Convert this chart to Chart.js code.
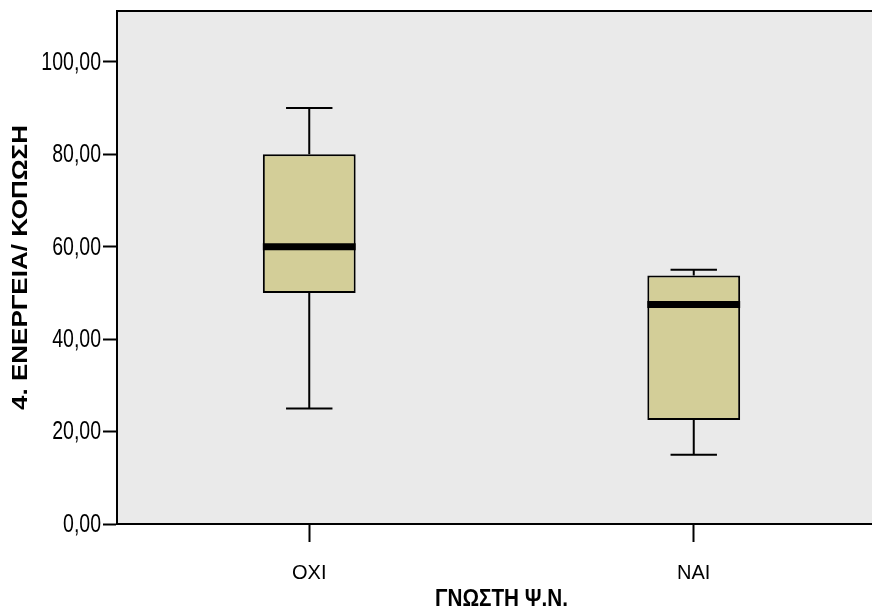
<!DOCTYPE html>
<html>
<head>
<meta charset="utf-8">
<script src="https://cdn.jsdelivr.net/npm/chart.js@4/dist/chart.umd.min.js"></script>
<style>
  html, body { margin: 0; padding: 0; overflow: hidden; background: #ffffff; }
  #wrap { width: 886px; height: 613px; }
</style>
</head>
<body>
<div id="wrap"><canvas id="c" width="886" height="613"></canvas></div>
<script>
// Box plot summary per group
const categories   = ['OXI', 'NAI'];
const whiskerLow   = [25, 15];
const quartile1    = [50, 22.5];
const medians      = [60, 47.5];
const quartile3    = [80, 53.75];
const whiskerHigh  = [90, 55];

const yMin = 0, yMax = 111, yStep = 20;
const formatTick = v => v.toFixed(2).replace('.', ',');

const xTitle = 'ΓΝΩΣΤΗ Ψ.Ν.';
const yTitle = '4. ΕΝΕΡΓΕΙΑ/ ΚΟΠΩΣΗ';

const boxFill = '#D3CE98';
const plotBg = '#EAEAEA';
const baseFont = "'Liberation Sans', Arial, sans-serif";

// Background of the plot area and the frame line along its top
const plotFrame = {
  id: 'plotFrame',
  beforeDraw(chart) {
    const { ctx, chartArea: a } = chart;
    ctx.save();
    ctx.fillStyle = plotBg;
    ctx.fillRect(a.left, a.top, a.right - a.left, a.bottom - a.top);
    ctx.restore();
  },
  afterDraw(chart) {
    const { ctx, chartArea: a } = chart;
    ctx.save();
    ctx.strokeStyle = '#000';
    ctx.lineWidth = 2;
    ctx.beginPath();
    ctx.moveTo(a.left - 1, a.top);
    ctx.lineTo(a.right, a.top);
    ctx.stroke();
    ctx.restore();
  }
};

// Whiskers, caps and median bars, placed with the chart's own scales
const boxExtras = {
  id: 'boxExtras',
  afterDatasetsDraw(chart) {
    const { ctx, scales: { x, y } } = chart;
    const meta = chart.getDatasetMeta(0);
    ctx.save();
    ctx.strokeStyle = '#000';
    categories.forEach((cat, i) => {
      const bar = meta.data[i];
      const cx = x.getPixelForValue(i);
      const half = bar.width / 2;
      const capHalf = half / 2;
      const yLo = y.getPixelForValue(whiskerLow[i]);
      const yQ1 = y.getPixelForValue(quartile1[i]);
      const yMed = y.getPixelForValue(medians[i]);
      const yQ3 = y.getPixelForValue(quartile3[i]);
      const yHi = y.getPixelForValue(whiskerHigh[i]);

      ctx.lineWidth = 2;
      ctx.beginPath();
      ctx.moveTo(cx, yQ3); ctx.lineTo(cx, yHi);
      ctx.moveTo(cx, yQ1); ctx.lineTo(cx, yLo);
      ctx.moveTo(cx - capHalf, yHi); ctx.lineTo(cx + capHalf, yHi);
      ctx.moveTo(cx - capHalf, yLo); ctx.lineTo(cx + capHalf, yLo);
      ctx.stroke();

      ctx.lineWidth = 7;
      ctx.beginPath();
      ctx.moveTo(cx - half, yMed); ctx.lineTo(cx + half, yMed);
      ctx.stroke();
    });
    ctx.restore();
  }
};

// Narrow y tick labels and the two axis titles
const axisText = {
  id: 'axisText',
  afterDraw(chart) {
    const { ctx, chartArea: a, scales: { y } } = chart;
    ctx.save();
    ctx.fillStyle = '#000';

    ctx.font = `25px ${baseFont}`;
    ctx.textAlign = 'right';
    ctx.textBaseline = 'middle';
    y.ticks.forEach(t => {
      const py = y.getPixelForValue(t.value);
      ctx.save();
      ctx.translate(101, py + 1);
      ctx.scale(0.78, 1);
      ctx.fillText(formatTick(t.value), 0, 0);
      ctx.restore();
    });

    ctx.textAlign = 'center';
    ctx.save();
    ctx.translate(21, (a.top + a.bottom) / 2);
    ctx.rotate(-Math.PI / 2);
    ctx.scale(1, 0.84);
    ctx.font = `bold 26px ${baseFont}`;
    ctx.fillText(yTitle, 0, 0);
    ctx.restore();

    ctx.save();
    ctx.translate((a.left + a.right) / 2, 600);
    ctx.scale(0.9, 1);
    ctx.font = `bold 23px ${baseFont}`;
    ctx.fillText(xTitle, 0, 0);
    ctx.restore();

    ctx.restore();
  }
};

new Chart(document.getElementById('c'), {
  type: 'bar',
  data: {
    labels: categories,
    datasets: [{
      data: categories.map((_, i) => [quartile1[i], quartile3[i]]),
      backgroundColor: boxFill,
      borderColor: '#000',
      borderWidth: 2,
      borderSkipped: false,
      barPercentage: 0.2414,
      categoryPercentage: 1
    }]
  },
  options: {
    responsive: false,
    animation: false,
    layout: { padding: { top: 11, left: 0, right: 0, bottom: 0 } },
    plugins: { legend: { display: false }, tooltip: { enabled: false } },
    scales: {
      x: {
        type: 'category',
        offset: true,
        grid: { drawOnChartArea: false, offset: false, tickLength: 18, tickColor: '#000', tickWidth: 2 },
        border: { color: '#000', width: 2 },
        ticks: { font: { family: baseFont, size: 20 }, color: '#000', padding: 19 },
        afterFit: s => { s.height = 89; s.paddingLeft = 0; s.paddingRight = 0; }
      },
      y: {
        min: yMin,
        max: yMax,
        ticks: { stepSize: yStep, includeBounds: false, display: false },
        grid: { drawOnChartArea: false, tickLength: 14, tickColor: '#000', tickWidth: 2 },
        border: { color: '#000', width: 2 },
        afterFit: s => { s.width = 117; s.paddingTop = 0; s.paddingBottom = 0; }
      }
    }
  },
  plugins: [plotFrame, boxExtras, axisText]
});
</script>
</body>
</html>
